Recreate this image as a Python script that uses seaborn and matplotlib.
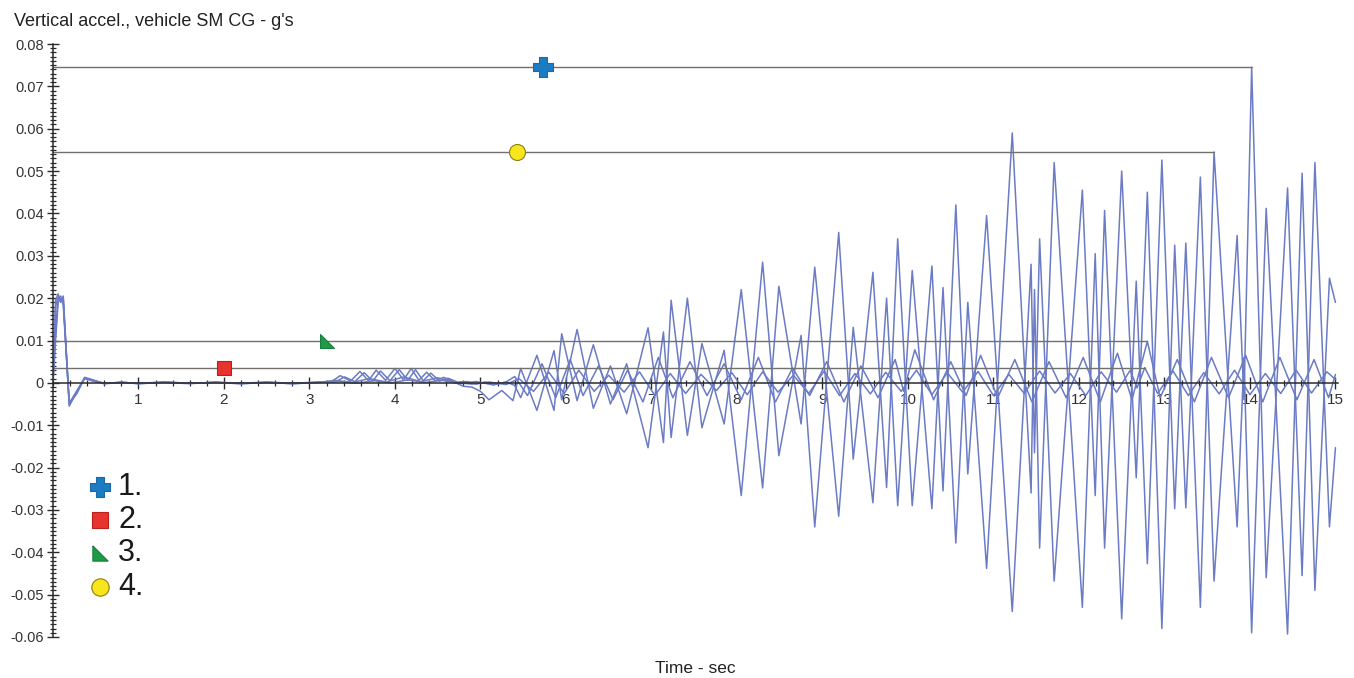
import numpy as np
import pandas as pd
import matplotlib
matplotlib.use("Agg")
import matplotlib.pyplot as plt
from matplotlib.ticker import MultipleLocator, FixedLocator, FuncFormatter
import seaborn as sns

# ---------------------------------------------------------------------------
# Vertical acceleration at the sprung-mass CG (g) versus time (s), four runs
# ---------------------------------------------------------------------------
series_names = ["1.", "2.", "3.", "4."]

# start-up transient, shared time base
early_t = [0.00, 0.03, 0.06, 0.09, 0.12, 0.19, 0.28, 0.37, 0.47, 0.60,
           0.80, 1.00, 1.30, 1.60, 1.90, 2.20, 2.50, 2.80, 3.10]
s1_early = [0.0000, 0.0195, 0.0210, 0.0190, 0.0205, -0.0055, -0.0020, 0.0013, 0.0007, -0.0002,
            0.0002, -0.0002, 0.0001, -0.0002, 0.0002, -0.0001, 0.0002, -0.0001, 0.0002]
s2_early = [0.0000, 0.0100, 0.0190, 0.0200, 0.0185, -0.0048, -0.0018, 0.0010, 0.0004, -0.0002,
            0.0001, -0.0001, 0.0001, -0.0001, 0.0001, -0.0001, 0.0001, -0.0001, 0.0001]
s3_early = [0.0000, 0.0120, 0.0200, 0.0205, 0.0190, -0.0050, -0.0022, 0.0012, 0.0005, -0.0001,
            0.0001, -0.0002, 0.0002, -0.0001, 0.0001, -0.0002, 0.0001, -0.0002, 0.0001]
s4_early = [0.0000, 0.0180, 0.0203, 0.0197, 0.0200, -0.0050, -0.0025, 0.0011, 0.0006, -0.0001,
            0.0001, -0.0001, 0.0002, -0.0001, 0.0001, -0.0002, 0.0001, -0.0002, 0.0001]

# low-level build-up between 3 and 5.4 s
s1_mid_t = [3.25, 3.36, 3.48, 3.59, 3.69, 3.78, 3.89, 4.00, 4.10, 4.19, 4.28,
            4.37, 4.47, 4.57, 4.68, 4.80, 4.90, 5.00, 5.10, 5.25, 5.38]
s1_mid = [0.0002, 0.0017, 0.0004, 0.0027, 0.0005, 0.0030, 0.0006, 0.0034, 0.0007, 0.0034, 0.0006,
          0.0025, 0.0005, 0.0013, 0.0003, -0.0008, -0.0010, -0.0020, -0.0040, -0.0018, -0.0042]
s4_mid_t = [3.30, 3.41, 3.53, 3.64, 3.74, 3.83, 3.94, 4.05, 4.15, 4.24, 4.33,
            4.42, 4.52, 4.62, 4.73, 4.85, 4.95, 5.05, 5.15, 5.30, 5.40]
s4_mid = [0.0002, 0.0014, 0.0003, 0.0024, 0.0004, 0.0028, 0.0005, 0.0031, 0.0006, 0.0031, 0.0005,
          0.0023, 0.0004, 0.0011, 0.0002, 0.0003, -0.0003, 0.0002, -0.0004, 0.0002, -0.0006]
s2_mid_t = [3.30, 3.50, 3.70, 3.90, 4.10, 4.30, 4.50, 4.70, 4.90, 5.10, 5.30]
s2_mid = [0.0006, 0.0001, 0.0010, 0.0002, 0.0014, 0.0003, 0.0012, 0.0001, -0.0003, 0.0002, -0.0004]
s3_mid_t = [3.35, 3.55, 3.75, 3.95, 4.15, 4.35, 4.55, 4.75, 4.95, 5.15, 5.30]
s3_mid = [0.0003, -0.0001, 0.0005, 0.0000, 0.0007, 0.0001, 0.0006, -0.0002, 0.0003, -0.0005, 0.0002]

# large response of runs 1 and 4 from 5.4 s on (common extremum times)
big_t = [5.47, 5.66, 5.86, 5.95, 6.13, 6.32, 6.52, 6.71, 6.96, 7.14,
         7.23, 7.42, 7.59, 7.85, 8.05, 8.30, 8.49, 8.75, 8.91, 9.19,
         9.36, 9.59, 9.75, 9.88, 10.05, 10.28, 10.41, 10.56, 10.70, 10.92,
         11.22, 11.44, 11.48, 11.54, 11.71, 12.04, 12.19, 12.30, 12.50, 12.67,
         12.80, 12.97, 13.12, 13.25, 13.42, 13.58, 13.85, 13.93, 14.02, 14.19,
         14.44, 14.61, 14.76, 14.93, 15.00]
s1_big = [0.0034, -0.0065, 0.0076, -0.0040, 0.0126, -0.0060, 0.0040, -0.0073, 0.0130, -0.0141,
          0.0195, -0.0124, 0.0093, -0.0097, 0.0220, -0.0248, 0.0228, -0.0097, 0.0273, -0.0315,
          0.0131, -0.0283, 0.0200, -0.0290, 0.0265, -0.0297, 0.0225, -0.0378, 0.0190, -0.0438,
          0.0590, -0.0260, 0.0220, -0.0390, 0.0520, -0.0530, 0.0305, -0.0390, 0.0500, -0.0224,
          0.0450, -0.0580, 0.0325, -0.0295, 0.0486, -0.0468, 0.0348, -0.0040, 0.0745, -0.0460,
          0.0460, -0.0455, 0.0520, -0.0340, -0.0153]
s4_big = [-0.0035, 0.0065, -0.0065, 0.0116, -0.0042, 0.0090, -0.0050, 0.0045, -0.0153, 0.0120,
          -0.0129, 0.0200, -0.0106, 0.0077, -0.0266, 0.0285, -0.0172, 0.0112, -0.0340, 0.0355,
          -0.0180, 0.0261, -0.0247, 0.0340, -0.0290, 0.0276, -0.0255, 0.0420, -0.0215, 0.0395,
          -0.0540, 0.0280, -0.0165, 0.0340, -0.0468, 0.0455, -0.0266, 0.0407, -0.0557, 0.0240,
          -0.0427, 0.0526, -0.0297, 0.0330, -0.0530, 0.0545, -0.0340, 0.0060, -0.0590, 0.0412,
          -0.0593, 0.0495, -0.0490, 0.0247, 0.0190]

# small response of runs 2 and 3 from 5.4 s on
s2_late_t = [5.45, 5.62, 5.80, 5.98, 6.15, 6.33, 6.50, 6.68, 6.86, 7.04,
             7.22, 7.40, 7.58, 7.76, 7.94, 8.12, 8.30, 8.48, 8.66, 8.84,
             9.02, 9.20, 9.38, 9.56, 9.74, 9.92, 10.10, 10.28, 10.46, 10.64,
             10.82, 11.00, 11.18, 11.36, 11.54, 11.72, 11.90, 12.08, 12.26, 12.44,
             12.60, 12.68, 12.77, 12.92, 13.10, 13.28, 13.46, 13.64, 13.82, 14.00,
             14.18, 14.36, 14.54, 14.72, 14.90, 15.00]
s2_late = [0.0010, -0.0020, 0.0025, -0.0025, 0.0030, -0.0020, 0.0018, -0.0022, 0.0026, -0.0030,
           0.0022, -0.0025, 0.0020, -0.0018, 0.0024, -0.0028, 0.0026, -0.0022, 0.0018, -0.0025,
           0.0028, -0.0030, 0.0022, -0.0026, 0.0025, -0.0020, 0.0030, -0.0028, 0.0024, -0.0022,
           0.0027, -0.0030, 0.0020, -0.0025, 0.0028, -0.0024, 0.0022, -0.0030, 0.0026, -0.0022,
           0.0030, -0.0012, 0.0036, -0.0025, 0.0028, -0.0030, 0.0024, -0.0026, 0.0030, -0.0028,
           0.0022, -0.0025, 0.0030, -0.0024, 0.0026, 0.0008]
s3_late_t = [5.40, 5.55, 5.72, 5.88, 6.05, 6.20, 6.38, 6.55, 6.72, 6.90,
             7.08, 7.25, 7.45, 7.65, 7.85, 8.05, 8.25, 8.45, 8.65, 8.85,
             9.05, 9.25, 9.45, 9.65, 9.85, 9.95, 10.08, 10.30, 10.50, 10.68,
             10.85, 11.05, 11.25, 11.45, 11.65, 11.85, 12.05, 12.25, 12.45, 12.62,
             12.80, 12.95, 13.15, 13.35, 13.55, 13.75, 13.95, 14.15, 14.35, 14.55,
             14.75, 14.92, 15.00]
s3_late = [0.0015, -0.0030, 0.0045, -0.0035, 0.0055, -0.0030, 0.0040, -0.0040, 0.0030, -0.0045,
           0.0060, -0.0035, 0.0050, -0.0030, 0.0045, -0.0040, 0.0060, -0.0045, 0.0035, -0.0030,
           0.0050, -0.0045, 0.0040, -0.0035, 0.0055, -0.0020, 0.0078, -0.0040, 0.0050, -0.0030,
           0.0065, -0.0035, 0.0055, -0.0045, 0.0050, -0.0035, 0.0060, -0.0045, 0.0070, -0.0040,
           0.0098, -0.0035, 0.0055, -0.0045, 0.0060, -0.0035, 0.0065, -0.0045, 0.0060, -0.0040,
           0.0055, -0.0035, 0.0020]

# chunky plus and right-angle triangle keys
fat_plus = [(-0.38, 1), (0.38, 1), (0.38, 0.38), (1, 0.38), (1, -0.38), (0.38, -0.38),
            (0.38, -1), (-0.38, -1), (-0.38, -0.38), (-1, -0.38), (-1, 0.38), (-0.38, 0.38),
            (-0.38, 1)]
corner_tri = [(-1, 1), (-1, -1), (1, -1), (-1, 1)]

# where each run's peak-marker symbol sits along its peak line (s)
marker_times = [5.73, 2.00, 3.20, 5.43]
marker_styles = [fat_plus, "s", corner_tri, "o"]
marker_faces = ["#1b7cc2", "#e8332e", "#1f9a48", "#f8e61c"]
marker_edges = ["#1b6aa8", "#b8201c", "#17803a", "#8c7d10"]
marker_sizes = [14, 10, 10, 11.5]

series_t = [early_t + s1_mid_t + big_t,
            early_t + s2_mid_t + s2_late_t,
            early_t + s3_mid_t + s3_late_t,
            early_t + s4_mid_t + big_t]
series_v = [s1_early + s1_mid + s1_big,
            s2_early + s2_mid + s2_late,
            s3_early + s3_mid + s3_late,
            s4_early + s4_mid + s4_big]

df = pd.concat(
    [pd.DataFrame({"time": t, "accel": v, "run": name})
     for name, t, v in zip(series_names, series_t, series_v)],
    ignore_index=True,
)

# ---------------------------------------------------------------------------
sns.set_style("white")
plt.rcParams["font.family"] = ["Liberation Sans", "DejaVu Sans"]

W, H = 1354, 678
fig = plt.figure(figsize=(W / 100, H / 100), dpi=100)
ax = fig.add_axes([53 / W, 41 / H, 1285 / W, 593 / H])

trace_color = "#6b7bc4"
sns.lineplot(data=df, x="time", y="accel", hue="run", estimator=None, sort=False,
             palette=[trace_color] * 4, linewidth=1.1, legend=False, ax=ax, zorder=2)

# peak lines, drawn from each run's maximum after the start-up transient
for t, v, mt, mk, fc, ec, ms in zip(series_t, series_v, marker_times, marker_styles,
                                    marker_faces, marker_edges, marker_sizes):
    t = np.asarray(t)
    v = np.asarray(v)
    keep = t >= 1.0
    k = np.argmax(v[keep])
    pk_t, pk_v = t[keep][k], v[keep][k]
    ax.plot([0, pk_t], [pk_v, pk_v], color="#707070", lw=1.0, zorder=3)
    ax.plot([mt], [pk_v], linestyle="none", marker=mk, markersize=ms,
            markerfacecolor=fc, markeredgecolor=ec, markeredgewidth=0.8, zorder=5)

ax.set_xlim(0, 15.03)
ax.set_ylim(-0.06, 0.08)

for side in ("top", "right"):
    ax.spines[side].set_visible(False)
ax.spines["bottom"].set_position(("data", 0))
for side in ("left", "bottom"):
    ax.spines[side].set_color("#2a2a2a")
    ax.spines[side].set_linewidth(1.1)
    ax.spines[side].set_zorder(4)

ax.xaxis.set_major_locator(FixedLocator(list(range(1, 16))))
ax.xaxis.set_minor_locator(MultipleLocator(0.2))
ax.yaxis.set_major_locator(MultipleLocator(0.01))
ax.yaxis.set_minor_locator(MultipleLocator(0.001))
ax.yaxis.set_major_formatter(FuncFormatter(lambda y, _: "0" if abs(y) < 1e-9 else f"{y:.2f}"))
ax.xaxis.set_major_formatter(FuncFormatter(lambda x, _: f"{x:.0f}"))

ax.tick_params(which="both", bottom=True, left=True, direction="inout", color="#2a2a2a")
ax.tick_params(which="major", length=9, width=1.0, labelsize=10.5, labelcolor="#333333")
ax.tick_params(which="minor", length=5, width=0.9)
ax.tick_params(axis="x", which="major", pad=3, labelsize=11)
ax.tick_params(axis="y", which="major", pad=2)

ax.set_xlabel("Time - sec", fontsize=12.5, color="#222222")
ax.xaxis.set_label_coords(0.5, -0.04)
ax.set_ylabel("")
fig.text(14 / W, 1 - 22 / H, "Vertical accel., vehicle SM CG - g's", fontsize=13,
         color="#222222", ha="left", va="center")

# legend keys
legend_y = [487, 520, 553, 587]
for name, y, mk, fc, ec, ms in zip(series_names, legend_y, marker_styles, marker_faces,
                                   marker_edges, marker_sizes):
    yf = 1 - y / H
    fig.lines.append(plt.Line2D([100 / W], [yf], transform=fig.transFigure, linestyle="none",
                                marker=mk, markersize=ms + 1, markerfacecolor=fc,
                                markeredgecolor=ec, markeredgewidth=0.8))
    fig.text(118 / W, yf, name, fontsize=22, color="#1a1a1a", ha="left", va="center")

fig.savefig("out.png", dpi=100, facecolor="white")
